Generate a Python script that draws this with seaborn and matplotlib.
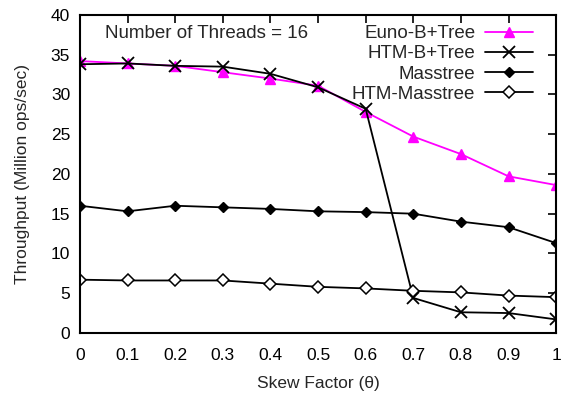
import matplotlib
matplotlib.use("Agg")
import matplotlib.pyplot as plt
import seaborn as sns
import pandas as pd

sns.set_style("white")
plt.rcParams['font.family'] = ['Liberation Sans', 'DejaVu Sans']

skew = [0, 0.1, 0.2, 0.3, 0.4, 0.5, 0.6, 0.7, 0.8, 0.9, 1.0]
euno_btree = [34.2, 33.9, 33.6, 32.8, 32.0, 31.1, 27.8, 24.7, 22.5, 19.7, 18.6]
htm_btree = [33.8, 33.9, 33.6, 33.5, 32.6, 30.9, 28.2, 4.4, 2.6, 2.5, 1.7]
masstree = [16.0, 15.3, 16.0, 15.8, 15.6, 15.3, 15.2, 15.0, 14.0, 13.3, 11.3]
htm_masstree = [6.7, 6.6, 6.6, 6.6, 6.2, 5.8, 5.6, 5.3, 5.1, 4.7, 4.5]
x_ticks = [0, 0.1, 0.2, 0.3, 0.4, 0.5, 0.6, 0.7, 0.8, 0.9, 1]
x_tick_labels = ["0", "0.1", "0.2", "0.3", "0.4", "0.5", "0.6", "0.7", "0.8", "0.9", "1"]
y_ticks = [0, 5, 10, 15, 20, 25, 30, 35, 40]

series = [
    ("Euno-B+Tree", euno_btree, dict(color="#ff00ff", marker="^", markersize=6.5,
                                      markerfacecolor="#ff00ff", markeredgecolor="#ff00ff", markeredgewidth=1)),
    ("HTM-B+Tree", htm_btree, dict(color="black", marker="x", markersize=8,
                                   markeredgecolor="black", markeredgewidth=1.3)),
    ("Masstree", masstree, dict(color="black", marker="D", markersize=5.5,
                                markerfacecolor="black", markeredgecolor="black", markeredgewidth=1)),
    ("HTM-Masstree", htm_masstree, dict(color="black", marker="D", markersize=6.5,
                                        markerfacecolor="white", markeredgecolor="black", markeredgewidth=1.1)),
]

fig = plt.figure(figsize=(5.71, 3.94), dpi=100)
ax = fig.add_axes([0.140, 0.155, 0.834, 0.807])

for name, vals, style in series:
    df = pd.DataFrame({"x": skew, "y": vals})
    sns.lineplot(data=df, x="x", y="y", ax=ax, label=name, linewidth=1.3, **style)

ax.set_xlim(0, 1)
ax.set_ylim(0, 40)
ax.set_xticks(x_ticks)
ax.set_xticklabels(x_tick_labels)
ax.set_yticks(y_ticks)
ax.tick_params(direction="in", length=6, width=1.2, top=True, right=True,
               labelsize=12.5, pad=7, colors="black")
ax.tick_params(axis="x", pad=11)
for s in ax.spines.values():
    s.set_linewidth(1.5)
    s.set_color("black")
ax.set_xlabel("Skew Factor (\u03b8)", fontsize=12.5, labelpad=9)
ax.set_ylabel("Throughput (Million ops/sec)", fontsize=12.5, labelpad=15)

ax.text(0.052, 0.968, "Number of Threads = 16", transform=ax.transAxes,
        fontsize=13.5, va="top", ha="left")
leg = ax.legend(loc="upper right", bbox_to_anchor=(0.952, 0.968), frameon=False,
                markerfirst=False, fontsize=13.5, handlelength=2.6, labelspacing=0.16,
                borderaxespad=0.0, borderpad=0.0, handletextpad=0.5)

fig.savefig("out.png", dpi=100)
